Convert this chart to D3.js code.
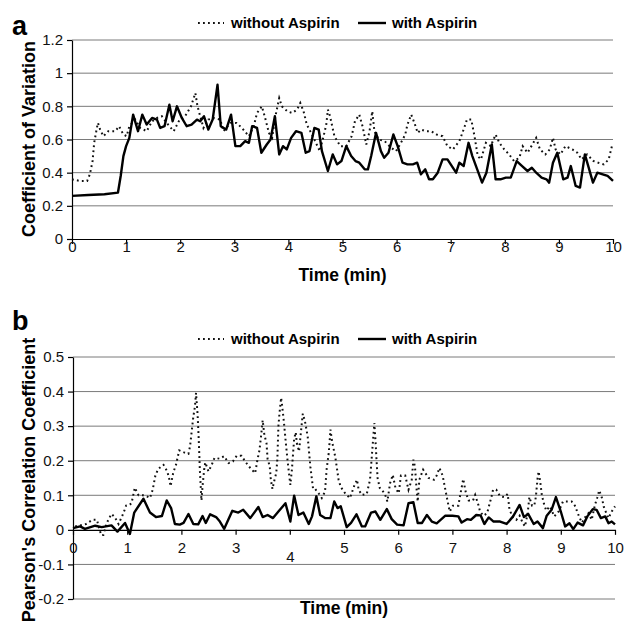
<!DOCTYPE html>
<meta charset="utf-8">
<head>
    <style>
        body { margin: 0; background: #fff; }
        text { font-family: "Liberation Sans", Arial, sans-serif; }
    </style>
</head>

<body>
    <div id="chart"></div>

    <script src="https://d3js.org/d3.v7.min.js"></script>

    <script>
        // time axis (min)
        let timeTicks = [0, 1, 2, 3, 4, 5, 6, 7, 8, 9, 10];
        let legendLabels = ['without Aspirin', 'with Aspirin'];

        // panel a : coefficient of variation, [time, value]
        let cvTicks = [0, 0.2, 0.4, 0.6, 0.8, 1, 1.2];
        let cvWithout = [[0,0.36],[0.15,0.35],[0.28,0.35],[0.33,0.39],[0.38,0.47],[0.41,0.58],[0.46,0.67],[0.48,0.70],[0.52,0.66],[0.58,0.62],[0.67,0.65],[0.8,0.65],[0.87,0.68],[0.95,0.63],[1.01,0.62],[1.06,0.68],[1.17,0.72],[1.26,0.67],[1.38,0.65],[1.48,0.71],[1.57,0.73],[1.66,0.74],[1.75,0.70],[1.88,0.65],[1.99,0.72],[2.09,0.74],[2.2,0.80],[2.28,0.88],[2.32,0.80],[2.37,0.74],[2.43,0.67],[2.52,0.72],[2.62,0.73],[2.74,0.72],[2.8,0.65],[2.93,0.70],[3.04,0.70],[3.14,0.67],[3.27,0.62],[3.36,0.68],[3.42,0.76],[3.51,0.80],[3.57,0.73],[3.64,0.64],[3.7,0.61],[3.76,0.74],[3.83,0.85],[3.88,0.80],[3.98,0.77],[4.07,0.76],[4.16,0.78],[4.22,0.82],[4.28,0.77],[4.34,0.69],[4.42,0.64],[4.48,0.60],[4.58,0.53],[4.65,0.62],[4.7,0.69],[4.73,0.78],[4.77,0.74],[4.85,0.62],[4.96,0.56],[5.07,0.56],[5.17,0.62],[5.23,0.71],[5.31,0.75],[5.37,0.68],[5.44,0.57],[5.5,0.65],[5.55,0.77],[5.59,0.65],[5.67,0.60],[5.78,0.59],[5.9,0.55],[5.99,0.53],[6.08,0.58],[6.16,0.63],[6.2,0.69],[6.27,0.75],[6.33,0.70],[6.39,0.64],[6.45,0.66],[6.54,0.65],[6.64,0.65],[6.74,0.63],[6.85,0.62],[6.94,0.56],[7.04,0.54],[7.16,0.59],[7.25,0.67],[7.3,0.72],[7.38,0.72],[7.44,0.62],[7.5,0.50],[7.56,0.48],[7.65,0.58],[7.74,0.56],[7.83,0.63],[7.9,0.58],[7.99,0.54],[8.08,0.51],[8.17,0.47],[8.27,0.49],[8.33,0.56],[8.42,0.52],[8.51,0.57],[8.58,0.61],[8.65,0.54],[8.75,0.51],[8.83,0.54],[8.89,0.61],[8.94,0.54],[9.03,0.51],[9.12,0.56],[9.25,0.54],[9.34,0.52],[9.42,0.48],[9.52,0.51],[9.64,0.47],[9.73,0.46],[9.83,0.45],[9.92,0.48],[9.98,0.56]];
        let cvWith = [[0,0.26],[0.3,0.265],[0.6,0.27],[0.85,0.28],[0.9,0.38],[0.95,0.50],[1.0,0.56],[1.06,0.61],[1.13,0.75],[1.22,0.65],[1.3,0.75],[1.38,0.69],[1.48,0.73],[1.57,0.72],[1.63,0.67],[1.71,0.68],[1.8,0.81],[1.86,0.71],[1.94,0.80],[2.03,0.73],[2.12,0.68],[2.21,0.69],[2.31,0.72],[2.37,0.71],[2.44,0.74],[2.52,0.66],[2.6,0.72],[2.69,0.93],[2.75,0.68],[2.85,0.66],[2.94,0.75],[3.02,0.56],[3.11,0.56],[3.2,0.59],[3.27,0.58],[3.33,0.68],[3.42,0.67],[3.5,0.52],[3.6,0.57],[3.67,0.60],[3.75,0.74],[3.83,0.51],[3.9,0.56],[3.97,0.54],[4.05,0.61],[4.14,0.65],[4.24,0.64],[4.32,0.52],[4.39,0.53],[4.48,0.67],[4.56,0.66],[4.62,0.53],[4.73,0.41],[4.82,0.51],[4.9,0.45],[4.98,0.47],[5.07,0.56],[5.16,0.50],[5.24,0.47],[5.31,0.46],[5.41,0.42],[5.47,0.42],[5.53,0.50],[5.62,0.64],[5.71,0.53],[5.77,0.49],[5.85,0.52],[5.94,0.63],[6.02,0.56],[6.11,0.46],[6.2,0.45],[6.3,0.45],[6.38,0.46],[6.45,0.39],[6.53,0.42],[6.6,0.36],[6.67,0.36],[6.76,0.40],[6.85,0.48],[6.94,0.48],[7.1,0.40],[7.16,0.46],[7.24,0.44],[7.33,0.58],[7.4,0.50],[7.49,0.42],[7.58,0.34],[7.66,0.40],[7.76,0.57],[7.83,0.36],[7.92,0.36],[8.02,0.37],[8.11,0.37],[8.22,0.47],[8.32,0.44],[8.42,0.41],[8.5,0.43],[8.58,0.40],[8.68,0.37],[8.77,0.36],[8.82,0.34],[8.89,0.46],[8.97,0.52],[9.08,0.36],[9.16,0.37],[9.22,0.44],[9.31,0.32],[9.39,0.31],[9.48,0.51],[9.56,0.42],[9.63,0.34],[9.71,0.40],[9.81,0.39],[9.9,0.38],[10,0.35]];

        // panel b : Pearson's correlation coefficient, [time, value]
        let rTicks = [-0.2, -0.1, 0, 0.1, 0.2, 0.3, 0.4, 0.5];
        let rWithout = [[0.04,0.01],[0.13,0.013],[0.24,0.017],[0.36,0.029],[0.44,0.029],[0.52,-0.015],[0.56,-0.015],[0.62,0.019],[0.71,0.046],[0.77,0.037],[0.84,0.017],[0.93,0.048],[0.98,0.07],[1.04,0.072],[1.08,0.077],[1.14,0.122],[1.21,0.10],[1.29,0.10],[1.36,0.097],[1.42,0.092],[1.47,0.116],[1.52,0.157],[1.57,0.176],[1.67,0.188],[1.74,0.169],[1.78,0.145],[1.8,0.126],[1.85,0.166],[1.9,0.188],[1.96,0.23],[2.05,0.224],[2.13,0.22],[2.16,0.242],[2.19,0.285],[2.22,0.327],[2.25,0.357],[2.27,0.396],[2.3,0.33],[2.32,0.26],[2.34,0.174],[2.37,0.085],[2.39,0.126],[2.42,0.174],[2.44,0.195],[2.5,0.169],[2.56,0.188],[2.61,0.208],[2.7,0.206],[2.79,0.213],[2.87,0.193],[2.95,0.198],[3.02,0.214],[3.11,0.214],[3.19,0.195],[3.27,0.179],[3.36,0.164],[3.41,0.208],[3.44,0.23],[3.47,0.272],[3.5,0.317],[3.53,0.275],[3.57,0.251],[3.59,0.205],[3.63,0.184],[3.65,0.145],[3.68,0.118],[3.71,0.14],[3.75,0.164],[3.77,0.203],[3.79,0.30],[3.81,0.338],[3.84,0.382],[3.86,0.357],[3.89,0.314],[3.93,0.246],[3.96,0.198],[4.01,0.13],[4.04,0.176],[4.08,0.263],[4.11,0.282],[4.13,0.251],[4.17,0.227],[4.21,0.29],[4.24,0.336],[4.28,0.314],[4.33,0.27],[4.38,0.182],[4.43,0.118],[4.47,0.118],[4.53,0.106],[4.59,0.092],[4.65,0.111],[4.68,0.176],[4.72,0.224],[4.75,0.29],[4.78,0.256],[4.84,0.21],[4.9,0.145],[4.94,0.124],[5.02,0.106],[5.11,0.092],[5.19,0.128],[5.24,0.145],[5.27,0.116],[5.33,0.101],[5.42,0.104],[5.48,0.145],[5.52,0.227],[5.56,0.309],[5.58,0.261],[5.6,0.203],[5.62,0.15],[5.66,0.121],[5.7,0.116],[5.76,0.101],[5.8,0.082],[5.85,0.135],[5.9,0.159],[5.95,0.121],[6.01,0.106],[6.05,0.157],[6.13,0.157],[6.19,0.116],[6.25,0.145],[6.28,0.203],[6.31,0.182],[6.34,0.116],[6.36,0.082],[6.39,0.145],[6.46,0.174],[6.56,0.15],[6.66,0.145],[6.71,0.157],[6.76,0.179],[6.82,0.157],[6.87,0.116],[6.9,0.092],[6.95,0.053],[7.01,0.07],[7.11,0.07],[7.14,0.097],[7.2,0.147],[7.25,0.106],[7.3,0.085],[7.38,0.085],[7.42,0.101],[7.48,0.072],[7.51,0.053],[7.57,0.041],[7.64,0.048],[7.68,0.072],[7.72,0.095],[7.75,0.116],[7.81,0.116],[7.88,0.097],[7.96,0.095],[8.02,0.104],[8.05,0.063],[8.1,0.039],[8.18,0.029],[8.24,0.041],[8.3,0.019],[8.34,0.01],[8.39,0.05],[8.42,0.095],[8.47,0.07],[8.51,0.07],[8.54,0.095],[8.57,0.147],[8.59,0.169],[8.62,0.14],[8.65,0.101],[8.69,0.075],[8.73,0.056],[8.8,0.068],[8.88,0.039],[8.96,0.053],[9.04,0.082],[9.11,0.082],[9.2,0.082],[9.27,0.068],[9.3,0.053],[9.35,0.034],[9.39,0.021],[9.45,0.037],[9.51,0.048],[9.57,0.029],[9.63,0.072],[9.67,0.092],[9.71,0.114],[9.76,0.092],[9.79,0.068],[9.84,0.048],[9.88,0.034],[9.94,0.053],[10,0.068]];
        let rWith = [[0,0.005],[0.13,0.01],[0.22,0.003],[0.41,0.012],[0.53,0.008],[0.71,0.013],[0.82,-0.005],[0.96,0.02],[1.05,-0.012],[1.13,0.05],[1.3,0.09],[1.42,0.05],[1.53,0.037],[1.64,0.04],[1.73,0.085],[1.81,0.063],[1.88,0.017],[1.97,0.015],[2.04,0.02],[2.13,0.046],[2.22,0.017],[2.31,0.016],[2.39,0.04],[2.45,0.02],[2.53,0.045],[2.64,0.037],[2.71,0.024],[2.79,0.003],[2.85,0.024],[2.94,0.055],[3.05,0.05],[3.14,0.058],[3.27,0.034],[3.42,0.066],[3.5,0.037],[3.59,0.043],[3.69,0.034],[3.79,0.053],[3.92,0.077],[4.01,0.024],[4.08,0.099],[4.16,0.043],[4.25,0.05],[4.35,0.017],[4.41,0.039],[4.49,0.097],[4.56,0.043],[4.65,0.034],[4.75,0.034],[4.82,0.082],[4.88,0.063],[4.94,0.068],[5.05,0.008],[5.13,0.02],[5.23,0.045],[5.33,0.01],[5.39,0.01],[5.5,0.05],[5.58,0.053],[5.67,0.029],[5.79,0.06],[5.88,0.031],[5.98,0.015],[6.1,0.013],[6.19,0.077],[6.28,0.08],[6.36,0.02],[6.44,0.02],[6.53,0.043],[6.62,0.024],[6.71,0.019],[6.87,0.041],[7.0,0.041],[7.11,0.039],[7.17,0.021],[7.27,0.031],[7.34,0.029],[7.44,0.043],[7.52,0.042],[7.59,0.017],[7.67,0.036],[7.76,0.024],[7.88,0.024],[8.0,0.017],[8.12,0.039],[8.24,0.072],[8.32,0.037],[8.4,0.046],[8.5,0.017],[8.57,0.024],[8.67,0.005],[8.74,0.041],[8.83,0.058],[8.91,0.095],[9.0,0.053],[9.08,0.01],[9.16,0.019],[9.23,0.002],[9.31,0.021],[9.41,0.013],[9.49,0.039],[9.59,0.06],[9.66,0.058],[9.74,0.034],[9.82,0.039],[9.88,0.019],[9.94,0.024],[10,0.016]];

        let svg = d3.select('#chart')
                    .append('svg')
                    .attr('width', 624)
                    .attr('height', 624);

        function drawPanel(p) {
            let x = d3.scaleLinear().domain([0, 10]).range([p.left, p.right]);
            let y = d3.scaleLinear().domain(p.domain).range([p.bottom, p.top]);
            let g = svg.append('g');

            // grid lines
            g.selectAll('.grid')
                .data(p.ticks.filter(d => d !== 0))
                .enter()
                .append('line')
                .attr('x1', p.left).attr('x2', p.right)
                .attr('y1', d => y(d)).attr('y2', d => y(d))
                .attr('stroke', '#7a7a7a')
                .attr('stroke-width', 1);

            // y axis
            let yAxis = g.append('g')
                        .attr('transform', `translate(${p.left}, 0)`)
                        .call(d3.axisLeft(y).tickValues(p.ticks).tickSize(5).tickSizeOuter(0)
                            .tickPadding(4).tickFormat(d => String(d)));
            yAxis.selectAll('text').attr('font-size', 15).attr('fill', '#111')
                .style('font-family', '"Liberation Sans", Arial, sans-serif');

            // x axis at zero
            let xAxis = g.append('g')
                        .attr('transform', `translate(0, ${y(0)})`)
                        .call(d3.axisBottom(x).tickValues(timeTicks).tickSize(5).tickSizeOuter(0));
            xAxis.selectAll('text')
                .attr('font-size', 15).attr('fill', '#111')
                .style('font-family', '"Liberation Sans", Arial, sans-serif')
                .attr('dy', 0)
                .attr('y', d => (p.lowFour && d === 4) ? p.labelY + 9 : p.labelY);
            g.selectAll('.domain, .tick line').attr('stroke', '#000').attr('stroke-width', 1.2);

            // series
            let line = d3.line().x(d => x(d[0])).y(d => y(d[1]));
            g.append('path').datum(p.without)
                .attr('d', line)
                .attr('fill', 'none').attr('stroke', '#111')
                .attr('stroke-width', 2).attr('stroke-dasharray', '1.8,3.2');
            g.append('path').datum(p.with)
                .attr('d', line)
                .attr('fill', 'none').attr('stroke', '#000')
                .attr('stroke-width', 2.4).attr('stroke-linejoin', 'round');

            // legend
            let lg = g.append('g').attr('transform', `translate(0, ${p.legendY})`);
            lg.append('line').attr('x1', 198).attr('x2', 224).attr('y1', -5).attr('y2', -5)
                .attr('stroke', '#111').attr('stroke-width', 2).attr('stroke-dasharray', '1.8,3.2');
            lg.append('text').attr('x', 231).attr('font-size', 15).attr('font-weight', 'bold')
                .text(legendLabels[0]);
            lg.append('line').attr('x1', 358).attr('x2', 386).attr('y1', -5).attr('y2', -5)
                .attr('stroke', '#000').attr('stroke-width', 2.4);
            lg.append('text').attr('x', 392).attr('font-size', 15).attr('font-weight', 'bold')
                .text(legendLabels[1]);

            // titles
            g.append('text').attr('x', (p.left + p.right) / 2).attr('y', p.xTitleY)
                .attr('text-anchor', 'middle').attr('font-size', 17.5).attr('font-weight', 'bold')
                .text('Time (min)');
            g.append('text')
                .attr('transform', `translate(35, ${p.yTitleMid}) rotate(-90)`)
                .attr('text-anchor', 'middle').attr('font-size', 18).attr('font-weight', 'bold')
                .text(p.yTitle);
            g.append('text').attr('x', 12).attr('y', p.letterY)
                .attr('font-size', 27).attr('font-weight', 'bold')
                .text(p.letter);
        }

        drawPanel({letter: 'a', letterY: 35, left: 72, right: 613, top: 40, bottom: 239,
                   domain: [0, 1.2], ticks: cvTicks, without: cvWithout, with: cvWith,
                   labelY: 13, legendY: 28, xTitleY: 281, yTitleMid: 139,
                   yTitle: 'Coefficient of Variation', lowFour: false});

        drawPanel({letter: 'b', letterY: 330, left: 73, right: 615, top: 357, bottom: 599,
                   domain: [-0.2, 0.5], ticks: rTicks, without: rWithout, with: rWith,
                   labelY: 23, legendY: 344, xTitleY: 614, yTitleMid: 480,
                   yTitle: "Pearson's Correlation Coefficient", lowFour: true});
    </script>
</body>
